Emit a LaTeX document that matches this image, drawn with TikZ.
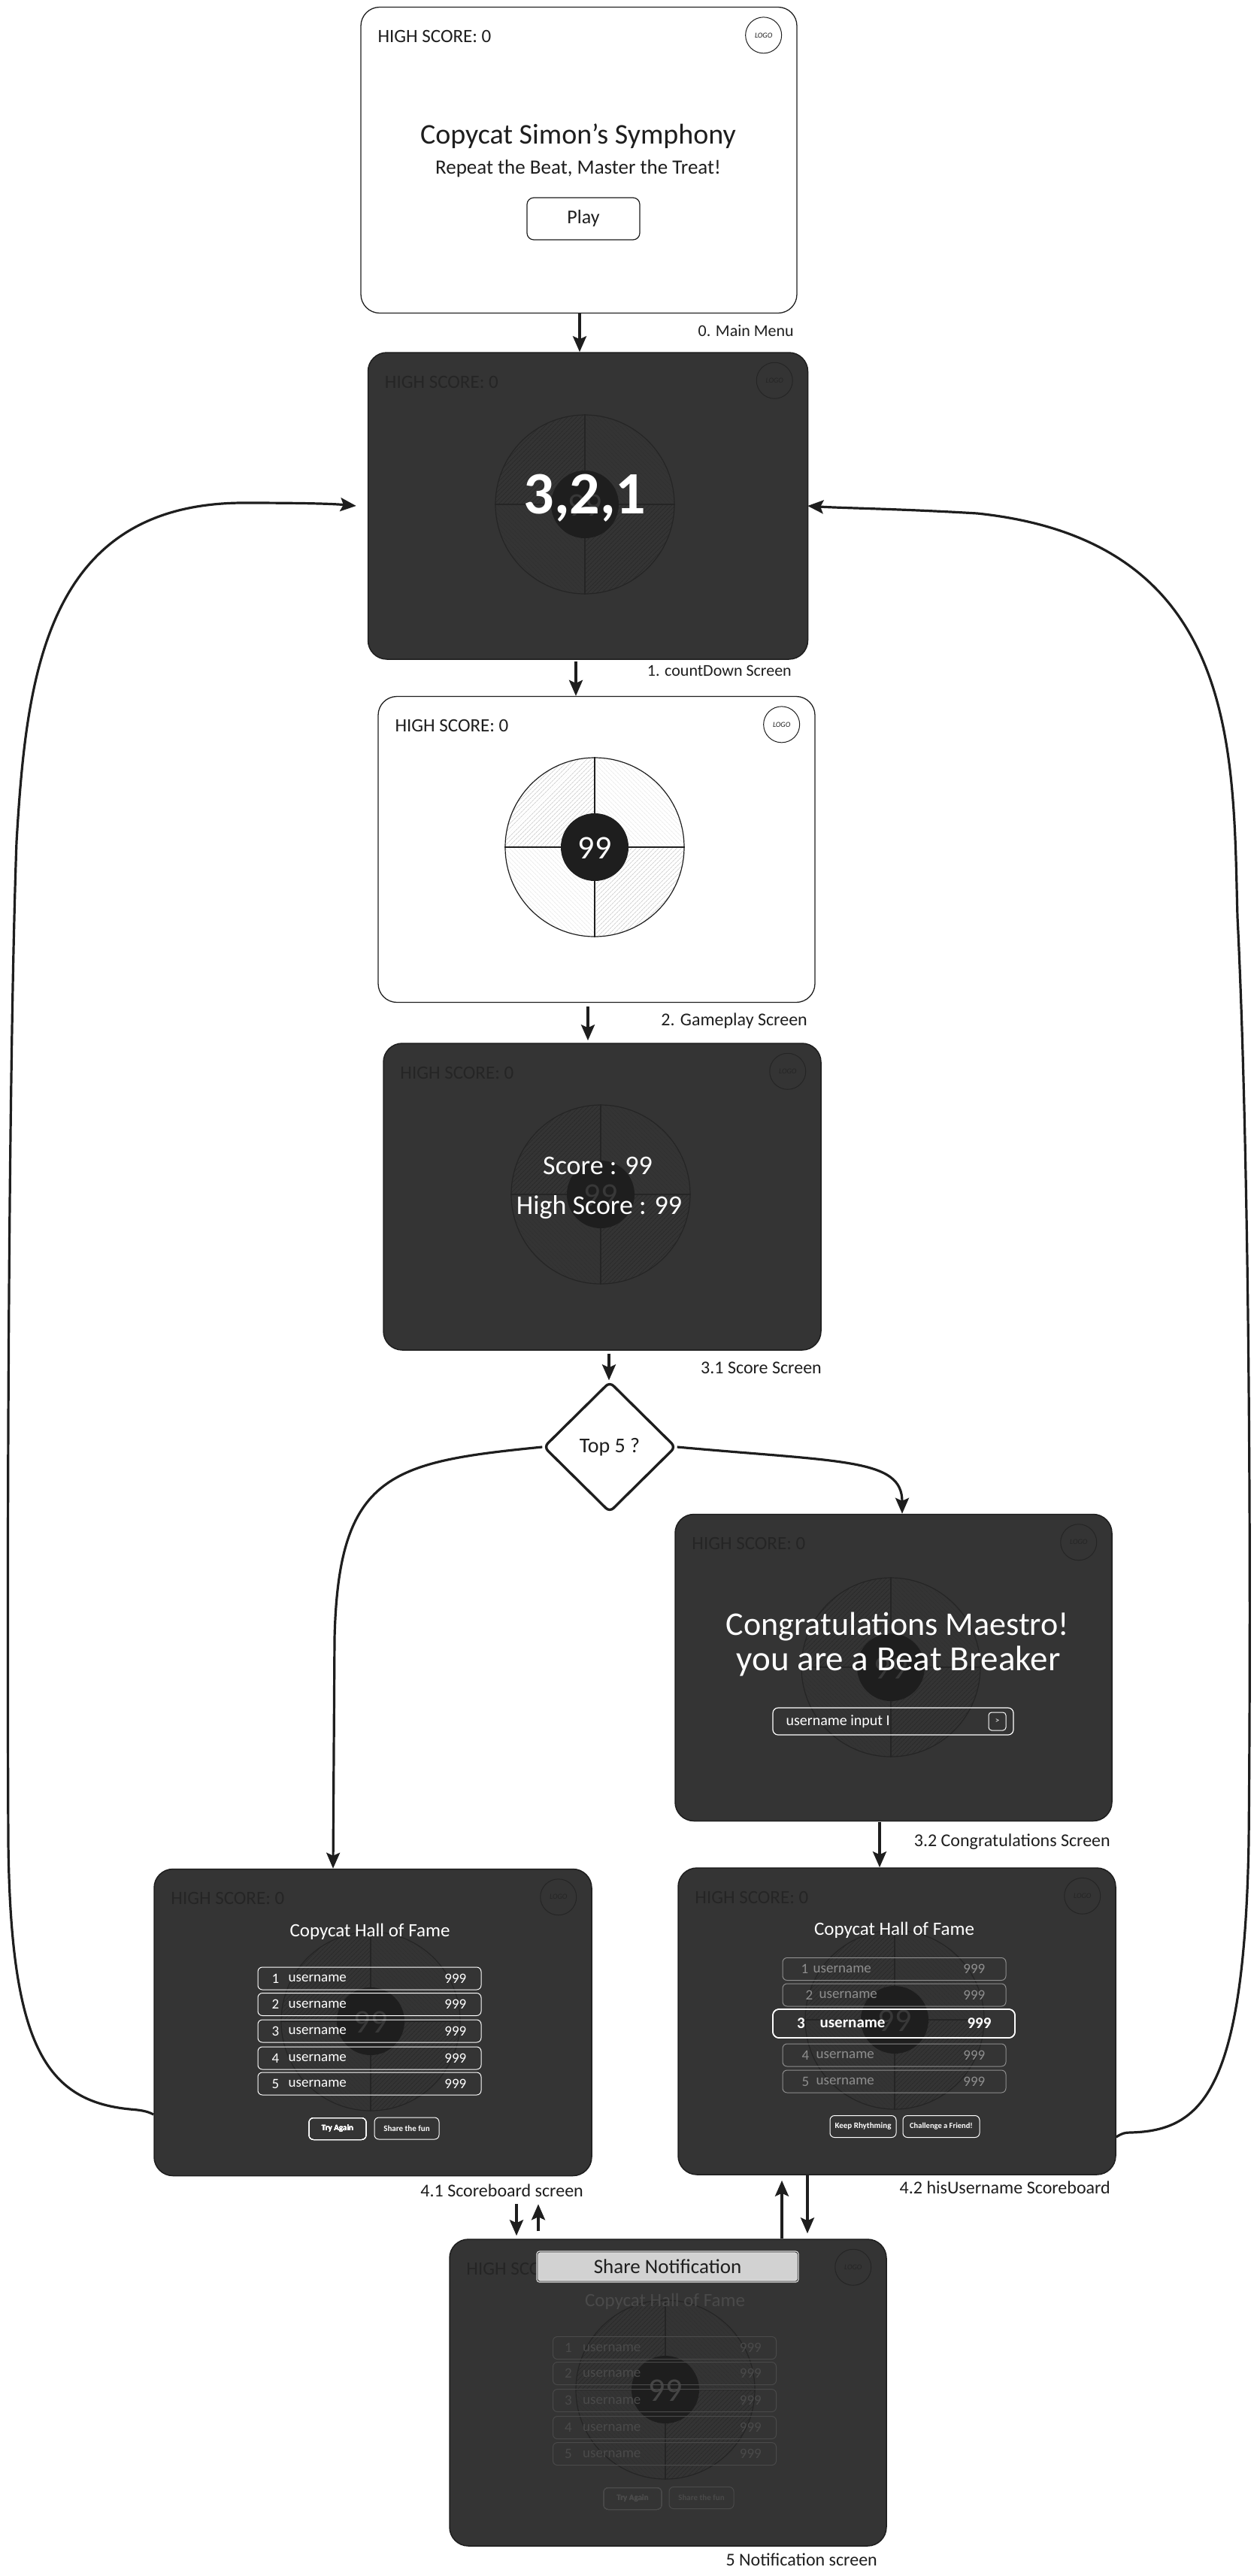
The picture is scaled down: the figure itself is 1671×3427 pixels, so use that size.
\documentclass[tikz,border=0pt]{standalone}
\usepackage{fontspec}
\setmainfont{Carlito}
\usetikzlibrary{arrows.meta,shapes.geometric,patterns.meta}

\definecolor{ink}{HTML}{1E1E1E}
\definecolor{screenfill}{HTML}{343434}
\definecolor{hudink}{HTML}{252525}
\definecolor{rowgrey}{HTML}{8E8E8E}
\definecolor{rowdim}{HTML}{4A4A4A}
\definecolor{barfill}{HTML}{D2D2D2}

\tikzset{
  lightscreen/.style={rectangle,draw=ink,line width=1.3pt,fill=white,rounded corners=25pt,minimum width=#1,minimum height=407pt,inner sep=0pt},
  darkscreen/.style={rectangle,draw=ink,line width=1.5pt,fill=screenfill,rounded corners=25pt,minimum width=#1,minimum height=408pt,inner sep=0pt},
  hudtext/.style={font=\fontsize{25}{30}\selectfont,inner sep=0pt},
  logo/.style={circle,line width=1pt,minimum size=48pt,inner sep=0pt,font=\fontsize{10}{12}\selectfont\itshape},
  caption/.style={font=\fontsize{#1}{26}\selectfont,text=ink,inner sep=0pt,anchor=east},
  flow/.style={draw=ink,line width=3.6pt,-{Stealth[length=21pt,width=18pt,inset=4pt]}},
  loopflow/.style={flow,line width=3.2pt},
  rowbox/.style={rectangle,draw,line width=1pt,rounded corners=6pt,minimum width=297pt,minimum height=30pt,inner sep=0pt},
  rowtext/.style={font=\fontsize{19}{23}\selectfont,inner sep=0pt},
  btnbox/.style={rectangle,draw,line width=1pt,rounded corners=6pt,minimum height=29pt,inner sep=0pt,font=\fontsize{11}{13}\selectfont\bfseries},
  headtext/.style={font=\fontsize{25}{30}\selectfont,inner sep=0pt},
  wheelline/.style={draw=hubline,line width=1.2pt},
  bigtext/.style={text=white,inner sep=0pt,font=\fontsize{#1}{#1}\selectfont}
}

\colorlet{hubline}{hudink}
\colorlet{hatchA}{black!20!screenfill}
\colorlet{hatchB}{black!5!screenfill}
\definecolor{hubtext}{HTML}{383838}

\newcommand{\hud}[2]{%
  \node[hudtext,text=#2,anchor=west] (#1-score) at ([shift={(23,-40)}]#1.north west) {HIGH SCORE: 0};
  \node[logo,draw=#2,text=#2] (#1-logo) at ([shift={(-45,-38)}]#1.north east) {LOGO};
}

\newcommand{\wheel}[3]{%
  \begin{scope}[shift={(#2,#3)}]
    \fill[pattern={Lines[angle=45,distance=4pt,line width=.9pt]},pattern color=hatchA]
      (0,0) -- (-119,0) arc[start angle=180,end angle=90,radius=119] -- cycle;
    \fill[pattern={Lines[angle=45,distance=4pt,line width=.9pt]},pattern color=hatchA]
      (0,0) -- (119,0) arc[start angle=0,end angle=-90,radius=119] -- cycle;
    \fill[pattern={Lines[angle=-45,distance=4pt,line width=.9pt]},pattern color=hatchB]
      (0,0) -- (119,0) arc[start angle=0,end angle=90,radius=119] -- cycle;
    \fill[pattern={Lines[angle=-45,distance=4pt,line width=.9pt]},pattern color=hatchB]
      (0,0) -- (-119,0) arc[start angle=180,end angle=270,radius=119] -- cycle;
    \node[circle,wheelline,minimum size=238pt,inner sep=0pt] (#1) at (0,0) {};
    \draw[wheelline] (#1.north) -- (#1.south);
    \draw[wheelline] (#1.west) -- (#1.east);
    \node[circle,fill=ink,minimum size=90pt,inner sep=0pt] (#1-hub) at (0,0) {};
    \node[text=hubtext,inner sep=0pt,font=\fontsize{44}{44}\selectfont] (#1-num) at (0,-1) {99};
  \end{scope}
}

\newcommand{\scorerow}[8]{%
  \node[rowbox,draw=#4] (#1) at (#2,-#3) {};
  \node[rowtext,text=#4] (#1-rank) at ([xshift=#6]#1.west) {#5};
  \node[rowtext,text=#4,anchor=west] (#1-name) at ([xshift=#7]#1.west) {username};
  \node[rowtext,text=#4,anchor=east] (#1-pts) at ([xshift=-#8]#1.east) {999};
}

\begin{document}
\begin{tikzpicture}[x=1pt,y=1pt]
  \useasboundingbox (0,0) rectangle (1671,-3427);

  % screens
  \node[lightscreen=580pt] (menu) at (770,-213) {};
  \node[darkscreen=585pt] (countdown) at (782,-673) {};
  \node[lightscreen=581pt] (gameplay) at (793.5,-1130) {};
  \node[darkscreen=582pt] (scores) at (801,-1592) {};
  \node[diamond,draw=ink,line width=3.4pt,fill=white,rounded corners=7pt,minimum width=176pt,minimum height=174pt,inner sep=0pt,font=\fontsize{28}{32}\selectfont,text=ink] (decide) at (811,-1925) {Top 5 ?};
  \node[darkscreen=581pt] (congrats) at (1188.5,-2218.5) {};
  \node[darkscreen=582pt] (hall) at (496,-2690.5) {};
  \node[darkscreen=582pt] (ownhall) at (1193,-2689) {};
  \node[darkscreen=581pt] (notify) at (888.5,-3183) {};

  % main menu
  \hud{menu}{ink}
  \node[bigtext=38,text=ink] (menu-title) at (769,-181) {Copycat Simon's Symphony};
  \node[bigtext=27,text=ink] (menu-sub) at (769,-224) {Repeat the Beat, Master the Treat!};
  \node[rectangle,draw=ink,line width=1.2pt,rounded corners=9pt,minimum width=150pt,minimum height=56pt,font=\fontsize{26}{30}\selectfont,text=ink] (menu-play) at (776,-291) {Play};
  \node[caption=22] (menu-cap) at (1056,-440) {0. Main Menu};

  % countdown
  \wheel{cwheel}{778}{-671}
  \hud{countdown}{hudink}
  \node[bigtext=80,font=\fontsize{80}{80}\selectfont\bfseries] (count-num) at (778,-663) {3,2,1};
  \node[caption=22] (countdown-cap) at (1053,-892) {1. countDown Screen};

  % gameplay
  \begin{scope}
    \colorlet{hubline}{ink}
    \colorlet{hatchA}{black!17}
    \colorlet{hatchB}{black!7}
    \colorlet{hubtext}{white}
    \wheel{gwheel}{791}{-1127}
  \end{scope}
  \hud{gameplay}{ink}
  \node[caption=24] (gameplay-cap) at (1074,-1358) {2. Gameplay Screen};

  % score
  \wheel{swheel}{799}{-1589}
  \hud{scores}{hudink}
  \node[bigtext=36] (score-now) at (795,-1551) {Score : 99};
  \node[bigtext=36] (score-high) at (797,-1606) {High Score : 99};
  \node[caption=24] (scores-cap) at (1093,-1820) {3.1 Score Screen};

  % congratulations
  \wheel{twheel}{1185}{-2218}
  \hud{congrats}{hudink}
  \node[bigtext=44] (congrats-a) at (1194,-2164) {Congratulations Maestro!};
  \node[bigtext=47] (congrats-b) at (1195,-2210) {you are a Beat Breaker};
  \node[rectangle,draw=white,line width=1.2pt,rounded corners=7pt,minimum width=320pt,minimum height=36pt,inner sep=0pt] (congrats-input) at (1188,-2290) {};
  \node[rowtext,text=white,anchor=west,font=\fontsize{20}{24}\selectfont] (congrats-hint) at ([xshift=18]congrats-input.west) {username input I};
  \node[rectangle,draw=white,line width=1pt,rounded corners=4pt,minimum width=23pt,minimum height=24pt,inner sep=0pt,text=white,font=\fontsize{11}{13}\selectfont] (congrats-go) at (1326.5,-2290) {>};
  \node[caption=24] (congrats-cap) at (1477,-2450) {3.2 Congratulations Screen};

  % scoreboard
  \wheel{hwheel}{493}{-2689}
  \hud{hall}{hudink}
  \node[headtext,text=white] (hall-title) at (492,-2570) {Copycat Hall of Fame};
  \foreach \rank/\ypos in {1/2632,2/2666.5,3/2702,4/2738,5/2772}
    \scorerow{hall-row\rank}{491.5}{\ypos}{white}{\rank}{24}{41}{20}
  \node[btnbox,draw=white,text=white,minimum width=76pt] (hall-again) at (449,-2832) {Try Again};
  \node[btnbox,draw=white,text=white,minimum width=86pt] (hall-share) at (541,-2831.5) {Share the fun};
  \node[caption=24] (hall-cap) at (776,-2914) {4.1 Scoreboard screen};

  % own scoreboard
  \wheel{owheel}{1190}{-2687}
  \hud{ownhall}{hudink}
  \node[headtext,text=white] (ownhall-title) at (1189.5,-2568) {Copycat Hall of Fame};
  \foreach \rank/\ypos/\rankx/\namex in {1/2619.5/30/41,2/2654/36/49,4/2734/31/45,5/2769/31/45}
    \scorerow{ownhall-row\rank}{1189.5}{\ypos}{rowgrey}{\rank}{\rankx}{\namex}{28}
  \node[rowbox,draw=white,line width=1.3pt,minimum width=322pt,minimum height=38pt,rounded corners=8pt] (ownhall-row3) at (1189,-2692) {};
  \node[rowtext,text=white,font=\fontsize{21}{25}\selectfont\bfseries] (ownhall-rank3) at ([xshift=38]ownhall-row3.west) {3};
  \node[rowtext,text=white,font=\fontsize{21}{25}\selectfont\bfseries,anchor=west] (ownhall-name3) at ([xshift=63]ownhall-row3.west) {username};
  \node[rowtext,text=white,font=\fontsize{21}{25}\selectfont\bfseries,anchor=east] (ownhall-pts3) at ([xshift=-32]ownhall-row3.east) {999};
  \node[btnbox,draw=white,text=white,minimum width=88pt] (ownhall-keep) at (1148,-2829) {Keep Rhythming};
  \node[btnbox,draw=white,text=white,minimum width=102pt,font=\fontsize{10.5}{13}\selectfont\bfseries] (ownhall-dare) at (1252,-2829) {Challenge a Friend!};
  \node[caption=24] (ownhall-cap) at (1477,-2910) {4.2 hisUsername Scoreboard};

  % notification
  \begin{scope}
    \definecolor{hubtext}{HTML}{454545}
    \wheel{nwheel}{885}{-3179}
  \end{scope}
  \hud{notify}{hudink}
  \node[headtext,text=rowdim] (notify-title) at (884.5,-3062) {Copycat Hall of Fame};
  \foreach \rank/\ypos in {1/3123.5,2/3157.5,3/3193.5,4/3229.5,5/3264.5}
    \scorerow{notify-row\rank}{884}{\ypos}{rowdim}{\rank}{21}{40}{20}
  \node[btnbox,draw=rowdim,text=rowdim,minimum width=77pt] (notify-again) at (841.5,-3324) {Try Again};
  \node[btnbox,draw=rowdim,text=rowdim,minimum width=86pt] (notify-share) at (933,-3323) {Share the fun};
  \node[rectangle,draw=white!88!black,double=ink,double distance=.8pt,line width=1.3pt,fill=barfill,rounded corners=3pt,minimum width=346pt,minimum height=39pt,inner sep=0pt,font=\fontsize{27}{30}\selectfont,text=ink] (notify-bar) at (888,-3015.5) {Share Notification};
  \node[caption=24] (notify-cap) at (1167,-3405) {5 Notification screen};

  % connectors
  \draw[flow] ([xshift=1]menu.south) -- ([xshift=-11]countdown.north);
  \draw[flow] ([shift={(-16,-2)}]countdown.south) -- ([xshift=-27.5]gameplay.north);
  \draw[flow] ([shift={(-11.5,-5)}]gameplay.south) -- ([shift={(-19,3)}]scores.north);
  \draw[flow] ([shift={(9,-4)}]scores.south) -- ([xshift=-1]decide.north);
  \draw[loopflow] (decide.west) .. controls (520,-1945) and (450,-1960) .. (445,-2180) -- ([xshift=-53]hall.north);
  \draw[loopflow] (decide.east) .. controls (1120,-1945) and (1200,-1940) .. ([xshift=11.5]congrats.north);
  \draw[flow] ([shift={(-18.5,-1)}]congrats.south) -- ([xshift=-23]ownhall.north);
  \coordinate (hall-out) at ([yshift=-122.5]hall.west);
  \draw[loopflow] (hall-out) .. controls (195,-2808) and (185,-2807) .. (173,-2806) .. controls (60,-2795) and (14,-2720) .. (11,-2450) .. controls (9,-2000) and (12,-1400) .. (22,-1120) .. controls (35,-900) and (60,-672) .. (320,-669) .. controls (400,-669) and (440,-670) .. ([xshift=-15]countdown.west);
  \coordinate (own-out) at ([yshift=-154]ownhall.east);
  \draw[loopflow] (own-out) .. controls (1492,-2838) and (1497,-2837) .. (1503,-2837) .. controls (1600,-2835) and (1655,-2780) .. (1661,-2450) .. controls (1665,-2000) and (1660,-1500) .. (1646,-1220) .. controls (1640,-1000) and (1650,-720) .. (1300,-683) .. controls (1200,-677) and (1120,-676) .. ([xshift=-1]countdown.east);
  \draw[flow] ([shift={(191,-37)}]hall.south) -- ([shift={(-201.5,4)}]notify.north);
  \draw[flow] ([shift={(-172.5,10)}]notify.north) -- ([shift={(220,-37)}]hall.south);
  \draw[flow] ([xshift=151.5]notify.north) -- ([shift={(-153,-7)}]ownhall.south);
  \draw[flow] ([xshift=-119]ownhall.south) -- ([shift={(185.5,7)}]notify.north);
\end{tikzpicture}
\end{document}
